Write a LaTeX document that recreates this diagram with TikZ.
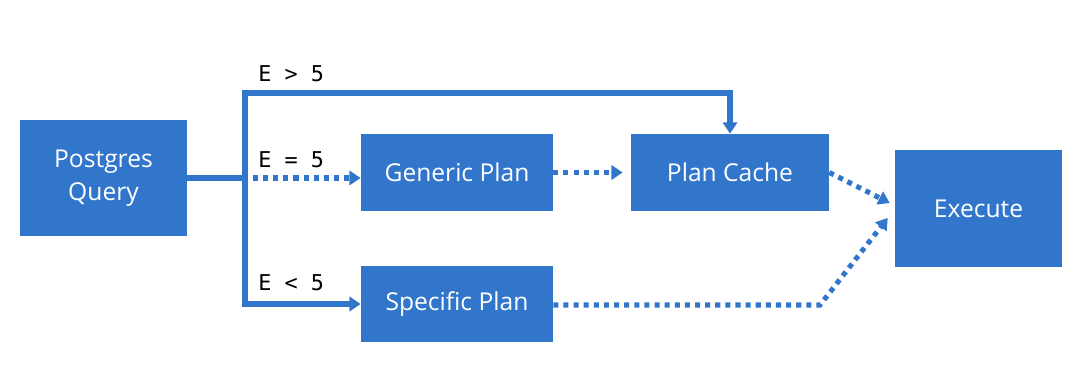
\documentclass[tikz,border=0pt]{standalone}
\usepackage{fontspec}
\setmainfont{Open Sans}
\newfontfamily\labelmono{DejaVu Sans Mono}
\usetikzlibrary{arrows.meta, calc}
\definecolor{pgblue}{RGB}{50,118,204}
\tikzset{
  blockbox/.style={rectangle,fill=pgblue,draw=none,text=white,align=center,font=\fontsize{17.5}{23.5}\selectfont},
  condlabel/.style={anchor=west,inner sep=0pt,font=\labelmono\fontsize{15.5}{17}\selectfont},
  solidarr/.style={-{Triangle[length=8pt,width=10pt]},line width=3.6pt,color=pgblue},
  plainline/.style={line width=3.6pt,color=pgblue},
  dotarr/.style={-{Triangle[length=8pt,width=10pt]},line width=3.6pt,color=pgblue,dash pattern=on 3.6pt off 3.6pt}
}
\begin{document}
\begin{tikzpicture}
  \useasboundingbox (0,0) rectangle (27,9.525);
  \node[blockbox,minimum width=4.175cm,minimum height=2.9cm] (query) at (2.5875,5.075) {Postgres\\Query};
  \node[blockbox,minimum width=4.8cm,minimum height=1.925cm] (generic) at (11.425,5.2125) {Generic Plan};
  \node[blockbox,minimum width=4.95cm,minimum height=1.925cm] (cache) at (18.25,5.2125) {Plan Cache};
  \node[blockbox,minimum width=4.8cm,minimum height=1.9cm] (specific) at (11.425,1.925) {Specific Plan};
  \node[blockbox,minimum width=4.175cm,minimum height=2.925cm] (execute) at (24.4625,4.3125) {Execute};
  \coordinate (split) at (6.125,5.075);
  \coordinate (top) at (6.125,7.2);
  \coordinate (bend) at (20.5,1.9);
  % conditions
  \node[condlabel] (gt) at (6.45,7.675) {E > 5};
  \node[condlabel] (eq) at (6.45,5.525) {E = 5};
  \node[condlabel] (lt) at (6.45,2.45) {E < 5};
  % solid branches
  \draw[plainline] (query.east |- split) -- (split);
  \draw[solidarr,line cap=rect] (split) -- (top) -| (cache.north);
  \draw[solidarr] (split) |- (specific.west);
  \draw[dotarr] ($(split)+(0.2,0)$) -- (generic.west |- split);
  % dotted flows
  \draw[dotarr] (generic.east) -- ($(cache.west)+(-0.2,0)$);
  \draw[dotarr] (cache.east) -- ($(execute.west)+(-0.125,0.1375)$);
  \draw[dotarr] (specific.east |- bend) -- (bend) -- ($(execute.west)+(-0.175,-0.2375)$);
\end{tikzpicture}
\end{document}
